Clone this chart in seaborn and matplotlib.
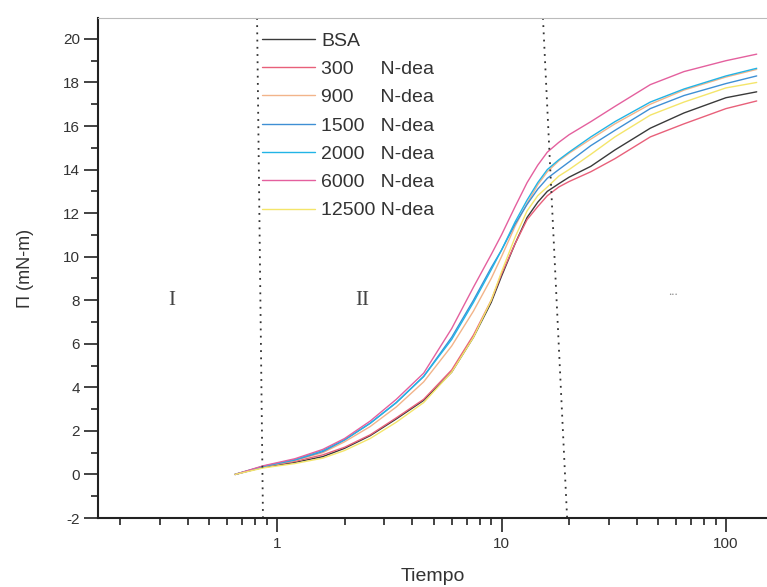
import numpy as np
import pandas as pd
import matplotlib
matplotlib.use("Agg")
import matplotlib.pyplot as plt
import seaborn as sns
from matplotlib.ticker import LogLocator, FixedLocator, NullFormatter, MultipleLocator
from matplotlib.lines import Line2D

# ---- data ----
tiempo = [0.65, 0.87, 1.2, 1.6, 2.0, 2.6, 3.4, 4.5, 6.0, 7.5, 9.0, 10, 11.5, 13,
          14.5, 16, 18, 20, 25, 32, 46, 65, 100, 137]
bsa    = [0.0, 0.33, 0.55, 0.82, 1.20, 1.78, 2.55, 3.40, 4.70, 6.3, 7.9, 9.1, 10.6, 11.8,
          12.5, 13.0, 13.35, 13.65, 14.15, 14.9, 15.9, 16.6, 17.3, 17.57]
n300   = [0.0, 0.36, 0.60, 0.90, 1.25, 1.82, 2.60, 3.45, 4.80, 6.4, 8.0, 9.2, 10.6, 11.7,
          12.3, 12.8, 13.2, 13.45, 13.9, 14.5, 15.5, 16.1, 16.8, 17.15]
n900   = [0.0, 0.36, 0.64, 1.00, 1.50, 2.20, 3.10, 4.25, 5.90, 7.5, 9.0, 10.0, 11.4, 12.45,
          13.3, 13.9, 14.4, 14.75, 15.4, 16.1, 17.0, 17.65, 18.25, 18.6]
n1500  = [0.0, 0.37, 0.66, 1.05, 1.58, 2.35, 3.30, 4.50, 6.30, 8.0, 9.5, 10.3, 11.5, 12.4,
          13.1, 13.6, 14.0, 14.35, 15.1, 15.8, 16.8, 17.4, 17.95, 18.3]
n2000  = [0.0, 0.38, 0.68, 1.10, 1.60, 2.35, 3.30, 4.50, 6.20, 7.9, 9.4, 10.3, 11.6, 12.6,
          13.4, 14.0, 14.45, 14.8, 15.5, 16.2, 17.1, 17.7, 18.3, 18.65]
n6000  = [0.0, 0.40, 0.72, 1.15, 1.65, 2.45, 3.45, 4.65, 6.70, 8.6, 10.1, 11.0, 12.3, 13.4,
          14.2, 14.8, 15.25, 15.6, 16.2, 16.9, 17.9, 18.5, 19.0, 19.3]
n12500 = [0.0, 0.30, 0.50, 0.75, 1.10, 1.65, 2.40, 3.30, 4.70, 6.3, 8.0, 9.3, 10.9, 12.1,
          12.8, 13.2, 13.7, 14.0, 14.7, 15.5, 16.5, 17.1, 17.75, 18.0]

labels = ["BSA", "300     N-dea", "900     N-dea", "1500   N-dea",
          "2000   N-dea", "6000   N-dea", "12500 N-dea"]
series = [bsa, n300, n900, n1500, n2000, n6000, n12500]
colors = ["#3a3a3a", "#e8607a", "#f2b48a", "#3f8fd4", "#22b4e6", "#e4609e", "#f4e56a"]

x_ticks = [1, 10, 100]
y_ticks = list(range(-2, 21, 2))
region_labels = ["I", "II", "..."]

rows = []
for lab, vals in zip(labels, series):
    for t, v in zip(tiempo, vals):
        rows.append({"Tiempo": t, "Pi": v, "serie": lab})
df = pd.DataFrame(rows)

sns.set_theme(style="white")
plt.rcParams["font.family"] = ["Liberation Sans", "DejaVu Sans"]

fig = plt.figure(figsize=(7.67, 5.87), dpi=100)
ax = fig.add_axes([98/767, 1-518/587, 1-98/767, (518-18)/587])

sns.lineplot(data=df, x="Tiempo", y="Pi", hue="serie", hue_order=labels,
             palette=dict(zip(labels, colors)), linewidth=1.0, ax=ax,
             legend=False, sort=False)

ax.set_xscale("log")
ax.set_xlim(10**((98-277)/224.5), 10**((767-277)/224.5))
ax.set_ylim(-2, 20.96)

# dotted region separators (slightly slanted as in the scan)
ax.plot([0.815, 0.866], [20.96, -2], color="#333333", lw=1.3, ls=(0, (1, 3)))
ax.plot([15.3, 19.6], [20.96, -2], color="#333333", lw=1.3, ls=(0, (1, 3)))

# region labels
ax.text(0.34, 8.0, region_labels[0], family="Liberation Serif", fontsize=15,
        ha="center", va="center", color="#444444")
ax.text(2.39, 8.0, region_labels[1], family="Liberation Serif", fontsize=15,
        ha="center", va="center", color="#444444")
ax.text(58, 8.4, region_labels[2], family="Liberation Serif", fontsize=9,
        ha="center", va="center", color="#888888")

# ticks
ax.xaxis.set_major_locator(FixedLocator(x_ticks))
ax.set_xticklabels([str(v) for v in x_ticks])
ax.xaxis.set_minor_locator(LogLocator(base=10, subs=np.arange(2, 10)))
ax.xaxis.set_minor_formatter(NullFormatter())
ax.yaxis.set_major_locator(FixedLocator(y_ticks))
ax.set_yticklabels([str(v) for v in y_ticks])
ax.yaxis.set_minor_locator(MultipleLocator(1))
ax.tick_params(axis="both", which="major", direction="out", length=10, width=1.2,
               color="#222222", labelsize=11, labelcolor="#333333", pad=3,
               bottom=True, left=True)
ax.tick_params(axis="both", which="minor", direction="out", length=5, width=1.2,
               color="#222222", bottom=True, left=True)
ax.tick_params(axis="x", which="major", pad=4)

for s in ["left", "bottom"]:
    ax.spines[s].set_color("#222222")
    ax.spines[s].set_linewidth(1.5)
ax.spines["right"].set_visible(False)
ax.spines["top"].set_color("#bbbbbb")
ax.spines["top"].set_linewidth(0.8)

ax.set_xlabel("Tiempo", fontsize=14, color="#333333", labelpad=12)
ax.set_ylabel("Π (mN-m)", fontsize=13, color="#333333", labelpad=21)

# legend
handles = [Line2D([], [], color=c, lw=1.0) for c in colors]
leg = fig.legend(handles, labels, loc="upper left",
                 bbox_to_anchor=(262/767, 1-32/587), frameon=False,
                 fontsize=14, handlelength=2.75, handletextpad=0.3,
                 labelspacing=0.55, borderpad=0, borderaxespad=0)
for t in leg.get_texts():
    t.set_color("#333333")

fig.savefig("out.png", dpi=100)
